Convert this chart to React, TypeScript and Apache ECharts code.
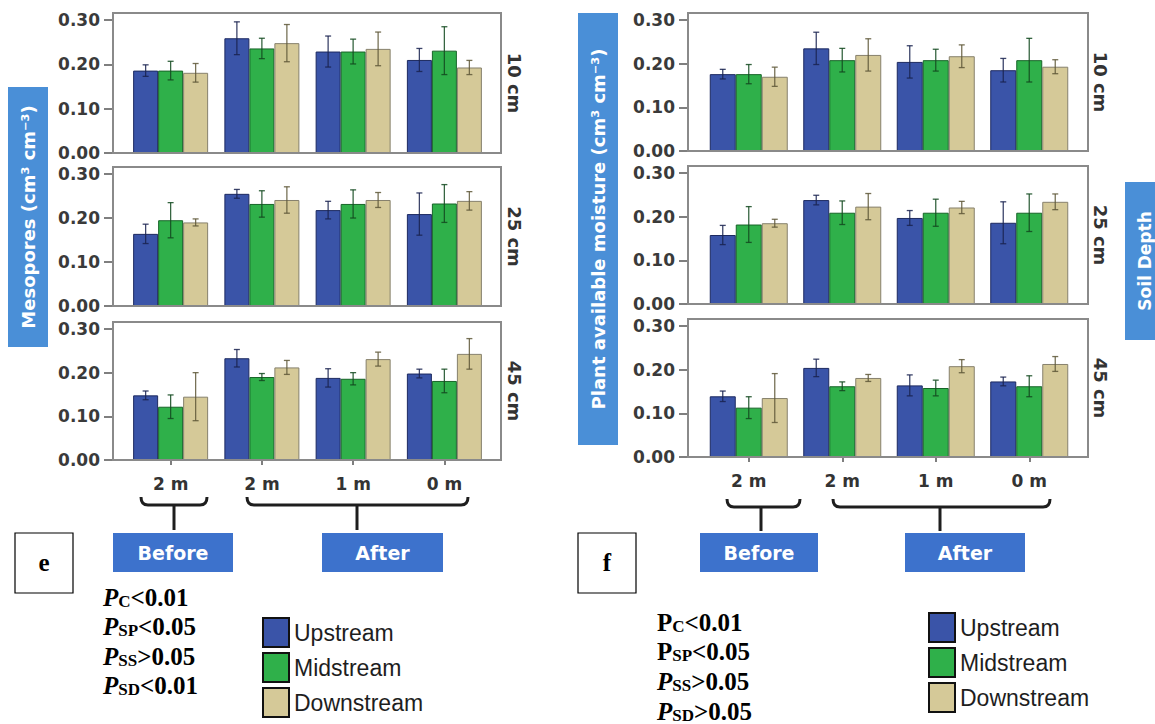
import React, { useEffect, useRef } from 'react';
import * as echarts from 'echarts';

// Sampling positions along the slope and depth strata
const DISTANCES = ['2 m', '2 m', '1 m', '0 m'];
const DEPTHS = ['10 cm', '25 cm', '45 cm'];
const STREAMS = ['Upstream', 'Midstream', 'Downstream'];
const Y_TICKS = [0, 0.1, 0.2, 0.3];
const Y_MAX = 0.316;

// Mesopores (cm3 cm-3): rows = 10 / 25 / 45 cm, columns = Before 2 m, After 2 m, 1 m, 0 m
const mesoUpstream = [
  [0.186, 0.259, 0.229, 0.210],
  [0.164, 0.255, 0.218, 0.209],
  [0.148, 0.233, 0.188, 0.198],
];
const mesoMidstream = [
  [0.186, 0.236, 0.229, 0.231],
  [0.195, 0.232, 0.232, 0.233],
  [0.122, 0.190, 0.186, 0.181],
];
const mesoDownstream = [
  [0.181, 0.248, 0.235, 0.193],
  [0.190, 0.241, 0.241, 0.239],
  [0.145, 0.212, 0.231, 0.243],
];
const mesoUpstreamSE = [
  [0.013, 0.037, 0.035, 0.026],
  [0.022, 0.010, 0.020, 0.048],
  [0.010, 0.020, 0.021, 0.010],
];
const mesoMidstreamSE = [
  [0.021, 0.023, 0.028, 0.054],
  [0.040, 0.030, 0.032, 0.043],
  [0.027, 0.008, 0.014, 0.027],
];
const mesoDownstreamSE = [
  [0.021, 0.042, 0.038, 0.016],
  [0.008, 0.030, 0.017, 0.021],
  [0.055, 0.016, 0.016, 0.035],
];

// Plant available moisture (cm3 cm-3)
const pamUpstream = [
  [0.176, 0.235, 0.204, 0.185],
  [0.158, 0.238, 0.197, 0.186],
  [0.139, 0.204, 0.164, 0.173],
];
const pamMidstream = [
  [0.176, 0.208, 0.208, 0.208],
  [0.182, 0.209, 0.209, 0.209],
  [0.113, 0.162, 0.158, 0.162],
];
const pamDownstream = [
  [0.170, 0.220, 0.217, 0.193],
  [0.185, 0.223, 0.221, 0.234],
  [0.135, 0.181, 0.208, 0.213],
];
const pamUpstreamSE = [
  [0.011, 0.037, 0.037, 0.027],
  [0.022, 0.011, 0.017, 0.048],
  [0.012, 0.020, 0.024, 0.010],
];
const pamMidstreamSE = [
  [0.022, 0.027, 0.025, 0.050],
  [0.041, 0.027, 0.031, 0.043],
  [0.025, 0.010, 0.018, 0.024],
];
const pamDownstreamSE = [
  [0.022, 0.037, 0.026, 0.016],
  [0.009, 0.030, 0.014, 0.018],
  [0.056, 0.008, 0.015, 0.017],
];

// Significance statements under each panel
const P_SUBS = ['C', 'SP', 'SS', 'SD'];
const P_MESO = ['<0.01', '<0.05', '>0.05', '<0.01'];
const P_MESO_ITALIC = [true, true, true, true];
const P_PAM = ['<0.01', '<0.05', '>0.05', '>0.05'];
const P_PAM_ITALIC = [false, false, true, true];

const STREAM_COLORS = ['#3a54a8', '#2fb04a', '#d5c998'];
const STREAM_BORDERS = ['#1d2a60', '#176428', '#86806c'];
const ERROR_COLORS = ['#1a2350', '#134a20', '#5f5838'];
const TITLE_BLUE = '#4a8fd7';
const GROUP_BLUE = '#3d72cc';
const SANS_BOLD = 'DejaVu Sans';
const SERIF = 'Liberation Serif';

const PANELS = [
  {
    frameX: 113, frameW: 388, insetL: 12, insetR: 11,
    tops: [13, 167, 322], heights: [140, 139, 138], barW: 25,
    means: [mesoUpstream, mesoMidstream, mesoDownstream],
    errs: [mesoUpstreamSE, mesoMidstreamSE, mesoDownstreamSE],
    depthX: 514,
  },
  {
    frameX: 688, frameW: 400, insetL: 14, insetR: 12,
    tops: [13, 166, 319], heights: [138, 138, 138], barW: 26,
    means: [pamUpstream, pamMidstream, pamDownstream],
    errs: [pamUpstreamSE, pamMidstreamSE, pamDownstreamSE],
    depthX: 1100,
  },
];

function errorBarRenderer(offset: number, color: string) {
  return (params: any, api: any) => {
    const ci = api.value(0);
    const mean = api.value(1);
    const err = api.value(2);
    const x = api.coord([ci, mean])[0] + offset;
    const yHi = api.coord([ci, mean + err])[1];
    const yLo = api.coord([ci, mean - err])[1];
    const style = { stroke: color, lineWidth: 1.3, opacity: 0.85 };
    return {
      type: 'group',
      children: [
        { type: 'line', shape: { x1: x, y1: yHi, x2: x, y2: yLo }, style },
        { type: 'line', shape: { x1: x - 3, y1: yHi, x2: x + 3, y2: yHi }, style },
        { type: 'line', shape: { x1: x - 3, y1: yLo, x2: x + 3, y2: yLo }, style },
      ],
    };
  };
}

function brace(x1: number, x2: number, stemX: number, yBar: number, yEnd: number, yStem: number) {
  const style = { stroke: '#1e1e1e', lineWidth: 3, fill: null };
  return [
    { type: 'bezierCurve', shape: { x1, y1: yEnd, cpx1: x1, cpy1: yBar, x2: x1 + 7, y2: yBar }, style },
    { type: 'line', shape: { x1: x1 + 7, y1: yBar, x2: x2 - 7, y2: yBar }, style },
    { type: 'bezierCurve', shape: { x1: x2 - 7, y1: yBar, cpx1: x2, cpy1: yBar, x2, y2: yEnd }, style },
    { type: 'line', shape: { x1: stemX, y1: yBar, x2: stemX, y2: yStem }, style },
  ];
}

function labelBox(x: number, y: number, w: number, h: number, text: string) {
  return [
    { type: 'rect', shape: { x, y, width: w, height: h }, style: { fill: GROUP_BLUE } },
    {
      type: 'text', x: x + w / 2, y: y + h / 2,
      style: {
        text, fill: '#ffffff', fontFamily: SANS_BOLD, fontWeight: 'bold', fontSize: 19,
        align: 'center', verticalAlign: 'middle',
      },
    },
  ];
}

function titleBox(x: number, y: number, w: number, h: number, text: string, size: number) {
  return [
    { type: 'rect', shape: { x, y, width: w, height: h }, style: { fill: TITLE_BLUE } },
    {
      type: 'text', x: x + w / 2, y: y + h / 2, rotation: Math.PI / 2,
      style: {
        text, fill: '#ffffff', fontFamily: SANS_BOLD, fontWeight: 'bold', fontSize: size,
        align: 'center', verticalAlign: 'middle',
      },
    },
  ];
}

function pValues(x: number, yStart: number, step: number, values: string[], italic: boolean[]) {
  return values.map((v, i) => ({
    type: 'text', x, y: yStart + i * step,
    style: {
      text: `{p|P}{s|${P_SUBS[i]}}{v|${v}}`,
      verticalAlign: 'middle',
      rich: {
        p: { fontFamily: SERIF, fontWeight: 'bold', fontStyle: italic[i] ? 'italic' : 'normal', fontSize: 25, fill: '#000', verticalAlign: 'bottom' },
        s: { fontFamily: SERIF, fontWeight: 'bold', fontSize: 17, fill: '#000', verticalAlign: 'bottom' },
        v: { fontFamily: SERIF, fontWeight: 'bold', fontSize: 25, fill: '#000', verticalAlign: 'bottom' },
      },
    },
  }));
}

function buildOption() {
  const grid: any[] = [];
  const xAxis: any[] = [];
  const yAxis: any[] = [];
  const series: any[] = [];
  const graphic: any[] = [];

  PANELS.forEach((p, pi) => {
    DEPTHS.forEach((depth, d) => {
      const gi = pi * 3 + d;
      const bottom = d === DEPTHS.length - 1;
      grid.push({
        left: p.frameX + p.insetL, top: p.tops[d],
        width: p.frameW - p.insetL - p.insetR, height: p.heights[d],
        outerBoundsMode: 'none',
      });
      xAxis.push({
        type: 'category', gridIndex: gi, data: DISTANCES,
        axisLine: { show: false },
        axisTick: { show: bottom, alignWithLabel: true, length: 5, lineStyle: { color: '#555', width: 1.5 } },
        axisLabel: {
          show: bottom, margin: 15, fontFamily: SANS_BOLD, fontWeight: 'bold', fontSize: 17, color: '#333',
        },
        splitLine: { show: false },
      });
      yAxis.push({
        type: 'value', gridIndex: gi, min: 0, max: Y_MAX, offset: p.insetL,
        axisLine: { show: false },
        axisTick: { show: true, length: 9, customValues: Y_TICKS, lineStyle: { color: '#555', width: 1.5 } },
        axisLabel: {
          customValues: Y_TICKS, margin: 13,
          formatter: (v: number) => v.toFixed(2),
          fontFamily: SANS_BOLD, fontWeight: 'bold', fontSize: 17, color: '#3a3a3a',
        },
        splitLine: { show: false },
      });
      STREAMS.forEach((name, s) => {
        series.push({
          type: 'bar', name, xAxisIndex: gi, yAxisIndex: gi,
          data: p.means[s][d], barWidth: p.barW, barGap: '0%',
          itemStyle: { color: STREAM_COLORS[s], borderColor: STREAM_BORDERS[s], borderWidth: 1 },
          emphasis: { disabled: true }, silent: true,
        });
      });
      STREAMS.forEach((name, s) => {
        series.push({
          type: 'custom', name: `${name} SE`, xAxisIndex: gi, yAxisIndex: gi, z: 4,
          data: p.means[s][d].map((m: number, i: number) => [i, m, p.errs[s][d][i]]),
          renderItem: errorBarRenderer((s - 1) * p.barW, ERROR_COLORS[s]),
          silent: true,
        });
      });
      // panel frame
      graphic.push({
        type: 'rect', z: 100,
        shape: { x: p.frameX, y: p.tops[d], width: p.frameW, height: p.heights[d] },
        style: { fill: null, stroke: '#8a8a8a', lineWidth: 2 },
      });
      // depth label on the right side of each panel
      graphic.push({
        type: 'text', x: p.depthX, y: p.tops[d] + p.heights[d] / 2, rotation: -Math.PI / 2,
        style: {
          text: depth, fill: '#333', fontFamily: SANS_BOLD, fontWeight: 'bold', fontSize: 18,
          align: 'center', verticalAlign: 'middle',
        },
      });
    });
  });

  // axis titles
  graphic.push(...titleBox(8, 87, 40, 260, 'Mesopores (cm³ cm⁻³)', 18));
  graphic.push(...titleBox(578, 13, 40, 432, 'Plant available moisture (cm³ cm⁻³)', 18));
  graphic.push(...titleBox(1125, 182, 40, 158, 'Soil Depth', 17));

  // before / after grouping braces
  graphic.push(...brace(141, 207, 174, 505, 497, 530));
  graphic.push(...brace(247, 468, 357, 505, 497, 530));
  graphic.push(...brace(727, 800, 761, 507, 499, 531));
  graphic.push(...brace(833, 1050, 940, 507, 499, 531));
  graphic.push(...labelBox(113, 533, 120, 39, 'Before'));
  graphic.push(...labelBox(322, 533, 121, 39, 'After'));
  graphic.push(...labelBox(700, 533, 118, 39, 'Before'));
  graphic.push(...labelBox(905, 533, 120, 39, 'After'));

  // panel letters
  [{ x: 15, t: 'e' }, { x: 578, t: 'f' }].forEach(({ x, t }) => {
    graphic.push({ type: 'rect', shape: { x, y: 533, width: 58, height: 60 }, style: { fill: '#fff', stroke: '#000', lineWidth: 1.2 } });
    graphic.push({
      type: 'text', x: x + 29, y: 562,
      style: { text: t, fill: '#000', fontFamily: SERIF, fontWeight: 'bold', fontSize: 25, align: 'center', verticalAlign: 'middle' },
    });
  });

  graphic.push(...pValues(103, 597, 29.5, P_MESO, P_MESO_ITALIC));
  graphic.push(...pValues(657, 622, 29.7, P_PAM, P_PAM_ITALIC));

  const legendBase = {
    data: STREAMS, orient: 'vertical', icon: 'rect', itemWidth: 26, itemHeight: 29, itemGap: 4,
    padding: 0, height: 110,
    selectedMode: false,
    itemStyle: { borderColor: '#111', borderWidth: 2 },
    textStyle: { fontFamily: 'Liberation Sans', fontSize: 23, color: '#1e1e1e' },
  };

  return {
    animation: false,
    backgroundColor: '#ffffff',
    grid, xAxis, yAxis, series,
    legend: [
      { ...legendBase, left: 262, top: 617 },
      { ...legendBase, left: 928, top: 612 },
    ],
    graphic,
  };
}

export default function App() {
  const ref = useRef<HTMLDivElement>(null);
  useEffect(() => {
    if (!ref.current) return;
    const chart = echarts.init(ref.current, undefined, { renderer: 'svg' });
    chart.setOption(buildOption() as any);
    return () => chart.dispose();
  }, []);
  return (
    <div
      ref={ref}
      style={{ position: 'absolute', left: 0, top: 0, width: 1155, height: 724, background: '#fff' }}
    />
  );
}
